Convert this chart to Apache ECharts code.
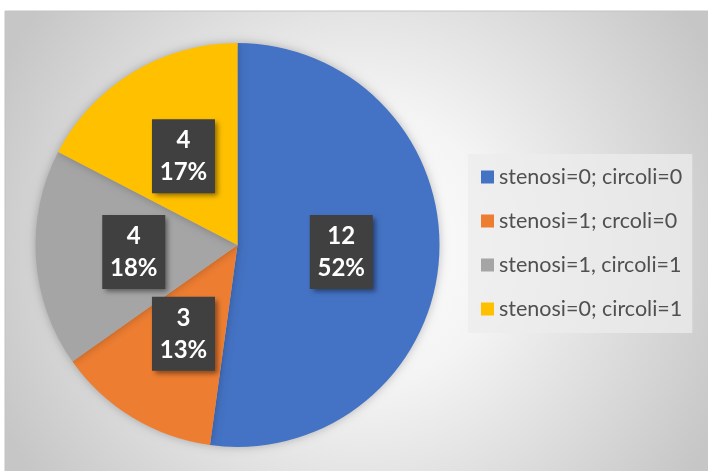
<!DOCTYPE html>
<html>
<head>
<meta charset="utf-8">
<script src="https://cdn.jsdelivr.net/npm/echarts@6/dist/echarts.min.js"></script>
<style>
  html, body { margin: 0; padding: 0; background: #ffffff; }
  #chart { width: 708px; height: 471px; }
</style>
</head>
<body>
<div id="chart"></div>
<script>
// Groups and counts
const categories = [
  'stenosi=0; circoli=0',
  'stenosi=1; crcoli=0',
  'stenosi=1, circoli=1',
  'stenosi=0; circoli=1'
];
const counts = [12, 3, 4, 4];
const colors = ['#4472C4', '#ED7D31', '#A5A5A5', '#FFC000'];

const pieData = categories.map((name, i) => ({
  name: name,
  value: counts[i],
  itemStyle: { color: colors[i] }
}));

const chart = echarts.init(document.getElementById('chart'), null, { renderer: 'canvas' });

chart.setOption({
  backgroundColor: '#ffffff',
  animation: false,
  graphic: [{
    type: 'rect',
    z: -10,
    silent: true,
    shape: { x: 5, y: 11, width: 710, height: 470 },
    style: {
      fill: {
        type: 'radial', x: 0.5, y: 0.5, r: 0.85,
        colorStops: [
          { offset: 0, color: '#ffffff' },
          { offset: 0.35, color: '#f4f4f4' },
          { offset: 1, color: '#c6c6c6' }
        ]
      },
      stroke: '#c3c3c3',
      lineWidth: 1
    }
  }],
  legend: {
    orient: 'vertical',
    left: 468,
    top: 154,
    padding: [12, 10, 13, 13],
    backgroundColor: 'rgba(236,236,236,0.75)',
    itemWidth: 13,
    itemHeight: 13,
    itemGap: 22,
    icon: 'rect',
    selectedMode: false,
    textStyle: {
      fontFamily: 'Lato',
      fontSize: 21.5,
      lineHeight: 22,
      color: '#505050'
    },
    data: categories
  },
  series: [{
    type: 'pie',
    center: [237.5, 245],
    radius: 202,
    startAngle: 90,
    clockwise: true,
    percentPrecision: 0,
    avoidLabelOverlap: false,
    itemStyle: {
      shadowBlur: 10,
      shadowColor: 'rgba(0,0,0,0.25)'
    },
    emphasis: { disabled: true },
    label: {
      show: true,
      position: 'inside',
      formatter: '{c}\n{d}%',
      fontFamily: 'Lato',
      fontWeight: 'bold',
      fontSize: 24,
      lineHeight: 32,
      color: '#ffffff',
      align: 'center',
      width: 63,
      padding: [5, 0, 5, 0],
      backgroundColor: '#404040',
      shadowBlur: 5,
      shadowOffsetX: 3,
      shadowOffsetY: 3,
      shadowColor: 'rgba(0,0,0,0.45)'
    },
    labelLine: { show: false },
    data: pieData
  }]
});
</script>
</body>
</html>
